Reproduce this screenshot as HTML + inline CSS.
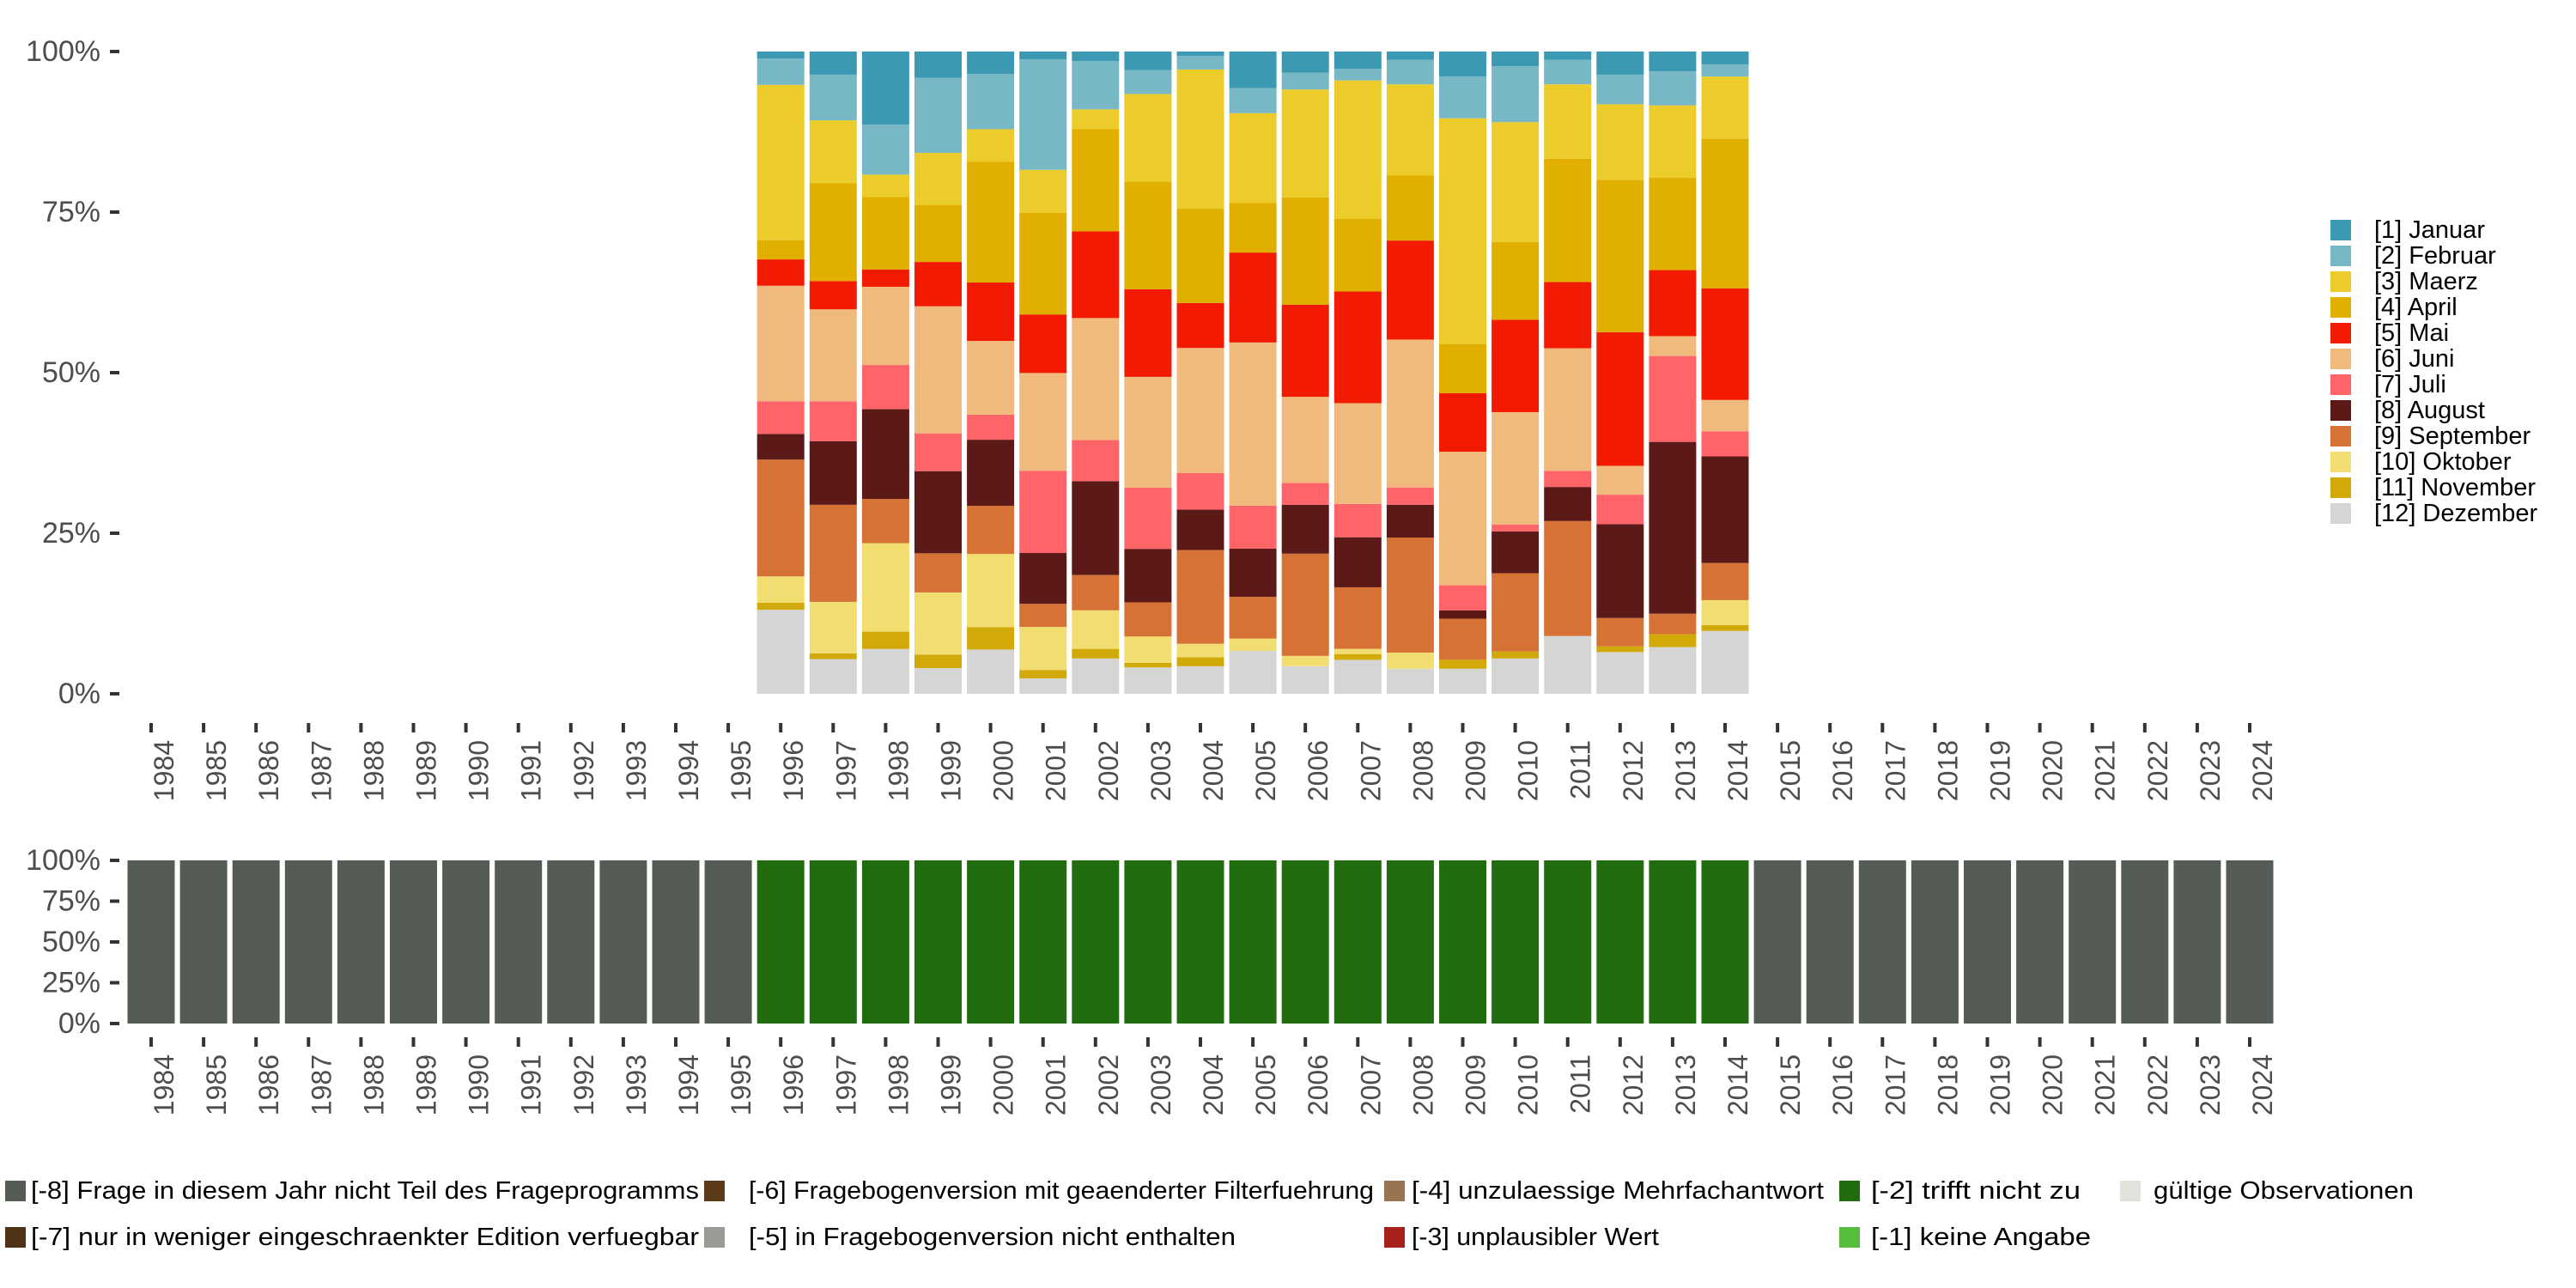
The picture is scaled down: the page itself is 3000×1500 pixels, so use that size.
<!DOCTYPE html>
<html><head><meta charset="utf-8"><style>
html,body{margin:0;padding:0;background:#fff;}
svg{display:block;font-family:"Liberation Sans","DejaVu Sans",sans-serif;}
</style></head><body>
<svg id="chart" width="3000" height="1500" viewBox="0 0 3000 1500" xmlns="http://www.w3.org/2000/svg">
<g id="top"></g>
<g id="bottom"></g>
<g id="legend-right"></g>
<g id="legend-bottom"></g>
</svg>
<script>
const allYears = [];
for (let y = 1984; y <= 2024; y++) allYears.push(y);
const dataYears = [1996,1997,1998,1999,2000,2001,2002,2003,2004,2005,2006,2007,2008,2009,2010,2011,2012,2013,2014];
const monthNames = ["[1] Januar","[2] Februar","[3] Maerz","[4] April","[5] Mai","[6] Juni","[7] Juli","[8] August","[9] September","[10] Oktober","[11] November","[12] Dezember"];
const monthColors = ["#3B9AB2","#78B7C5","#EBCC2A","#E1AF00","#F21A00","#F0BA7D","#FF6468","#5B1A18","#D67236","#F2DE70","#D1A908","#D5D5D3"];
const jan = [1.1,3.6,11.4,4.1,3.5,1.2,1.5,2.9,0.7,5.7,3.3,2.7,1.3,3.9,2.3,1.3,3.6,3.1,2.0];
const feb = [4.1,7.1,7.8,11.7,8.6,17.2,7.5,3.7,2.1,3.9,2.6,1.8,3.8,6.5,8.7,3.8,4.6,5.3,1.9];
const mae = [24.2,9.8,3.5,8.1,5.1,6.7,3.1,13.6,21.7,14.0,16.8,21.6,14.2,35.1,18.7,11.6,11.8,11.3,9.7];
const apr = [3.0,15.2,11.3,8.9,18.8,15.8,15.9,16.7,14.7,7.7,16.7,11.3,10.1,7.7,12.1,19.2,23.7,14.4,23.3];
const mai = [4.1,4.4,2.7,6.9,9.1,9.1,13.5,13.6,7.0,14.0,14.3,17.4,15.4,9.1,14.4,10.3,20.8,10.3,17.4];
const jun = [18.0,14.3,12.2,19.8,11.5,15.2,19.0,17.2,19.5,25.4,13.4,15.7,23.0,20.8,17.5,19.1,4.5,3.1,4.9];
const jul = [5.1,6.2,6.9,5.9,3.9,12.8,6.4,9.5,5.7,6.7,3.4,5.2,2.7,3.9,1.1,2.5,4.6,13.4,3.9];
const aug = [4.0,9.9,14.0,12.8,10.3,7.9,14.6,8.3,6.3,7.5,7.6,7.8,5.1,1.3,6.5,5.3,14.6,26.8,16.6];
const sep = [18.2,15.1,6.9,6.1,7.5,3.6,5.5,5.3,14.6,6.5,15.9,9.6,17.9,6.4,12.2,17.9,4.4,3.2,5.8];
const okt = [4.1,8.0,13.8,9.7,11.4,6.7,6.0,4.1,2.1,1.9,1.6,0.8,2.5,0,0,0,0,0,3.9];
const nov = [1.1,0.9,2.7,2.1,3.5,1.3,1.5,0.7,1.4,0,0,0.9,0,1.4,1.1,0,0.9,2.0,0.9];
const dez = [13.1,5.4,7.0,4.0,6.9,2.4,5.5,4.1,4.3,6.7,4.3,5.3,3.9,3.9,5.5,9.0,6.5,7.3,9.8];
const monthSeries = [jan,feb,mae,apr,mai,jun,jul,aug,sep,okt,nov,dez];
const yTickLabels = ["0%","25%","50%","75%","100%"];
const yTickValues = [0,0.25,0.5,0.75,1];
const statusKeys = ["-8","-7","-6","-5","-4","-3","-2","-1","valid"];
const statusLabels = ["[-8] Frage in diesem Jahr nicht Teil des Frageprogramms","[-7] nur in weniger eingeschraenkter Edition verfuegbar","[-6] Fragebogenversion mit geaenderter Filterfuehrung","[-5] in Fragebogenversion nicht enthalten","[-4] unzulaessige Mehrfachantwort","[-3] unplausibler Wert","[-2] trifft nicht zu","[-1] keine Angabe","gültige Observationen"];
const statusColors = ["#555B55","#4F3317","#5C3A1A","#999B95","#9A7450","#A8201A","#216C0E","#55BE3F","#E0E3DC"];
const yearStatus = allYears.map(y => (y >= 1996 && y <= 2014) ? "-2" : "-8");
const yearStatusShare = allYears.map(() => 1);

const NS = "http://www.w3.org/2000/svg";
function mk(tag, attrs, parent) {
  const e = document.createElementNS(NS, tag);
  for (const k in attrs) e.setAttribute(k, attrs[k]);
  parent.appendChild(e);
  return e;
}
const x0 = 176, step = 61.1, barW = 55;
function xScale(year) { return x0 + (year - 1984) * step; }

function drawAxes(g, yTop, yBot, labelTop, prefix) {
  const ys = v => yBot - v * (yBot - yTop);
  yTickValues.forEach((v, i) => {
    const t = mk("text", {x: 117, y: ys(v), "text-anchor": "end", "dominant-baseline": "central", "font-size": 34, fill: "#4D4D4D"}, g);
    t.textContent = yTickLabels[i];
    
    
    const l = mk("line", {x1: 128, x2: 139, y1: ys(v), y2: ys(v), stroke: "#333", "stroke-width": 4}, g);
    
    
  });
  allYears.forEach(y => {
    const x = xScale(y);
    const l = mk("line", {x1: x, x2: x, y1: labelTop - 20, y2: labelTop - 9, stroke: "#333", "stroke-width": 4}, g);
    
    
    const t = mk("text", {x: 0, y: 0, transform: `translate(${x + 26},${labelTop}) rotate(-90)`, "text-anchor": "end", "font-size": 32, fill: "#4D4D4D"}, g);
    t.textContent = y;
    
    
  });
  return ys;
}

// top chart
const gTop = document.getElementById("top");
const ysTop = drawAxes(gTop, 60, 808, 862, "top");
dataYears.forEach((yr, j) => {
  let total = 0;
  monthSeries.forEach(s => total += s[j]);
  let cum = 0;
  for (let m = 11; m >= 0; m--) {
    const v = monthSeries[m][j] / total;
    if (v <= 0) continue;
    const yb = ysTop(cum), yt = ysTop(cum + v);
    const r = mk("rect", {x: xScale(yr) - barW / 2, y: yt, width: barW, height: yb - yt, fill: monthColors[m]}, gTop);
    
    
    cum += v;
  }
});

// bottom chart
const gBot = document.getElementById("bottom");
const ysBot = drawAxes(gBot, 1002, 1192, 1228, "bottom");
allYears.forEach((yr, i) => {
  const yt = ysBot(yearStatusShare[i]), yb = ysBot(0);
  const r = mk("rect", {x: xScale(yr) - barW / 2, y: yt, width: barW, height: yb - yt, fill: statusColors[statusKeys.indexOf(yearStatus[i])]}, gBot);
  
  
});

// right legend
const gLR = document.getElementById("legend-right");
monthNames.forEach((n, i) => {
  const cy = 268 + i * 30;
  const r = mk("rect", {x: 2714, y: cy - 12, width: 24, height: 24, fill: monthColors[i]}, gLR);
  
  
  const t = mk("text", {x: 2765, y: cy, "dominant-baseline": "central", "font-size": 29, fill: "#000"}, gLR);
  t.textContent = n;
  
  
});

// bottom legend
const gLB = document.getElementById("legend-bottom");
const legPos = [
  [6,36,1387,778],[6,36,1441,778],
  [820,872,1387,728],[820,872,1441,567],
  [1612,1644,1387,480],[1612,1644,1441,288],
  [2142,2179,1387,244],[2142,2179,1441,256],
  [2469,2508,1387,303]
];
statusLabels.forEach((lab, i) => {
  const p = legPos[i];
  const r = mk("rect", {x: p[0], y: p[2] - 12, width: 24, height: 24, fill: statusColors[i]}, gLB);
  
  
  const t = mk("text", {x: p[1], y: p[2], "dominant-baseline": "central", "font-size": 29, fill: "#000", textLength: p[3], lengthAdjust: "spacingAndGlyphs"}, gLB);
  t.textContent = lab;
  
  
});
</script>
</body></html>
